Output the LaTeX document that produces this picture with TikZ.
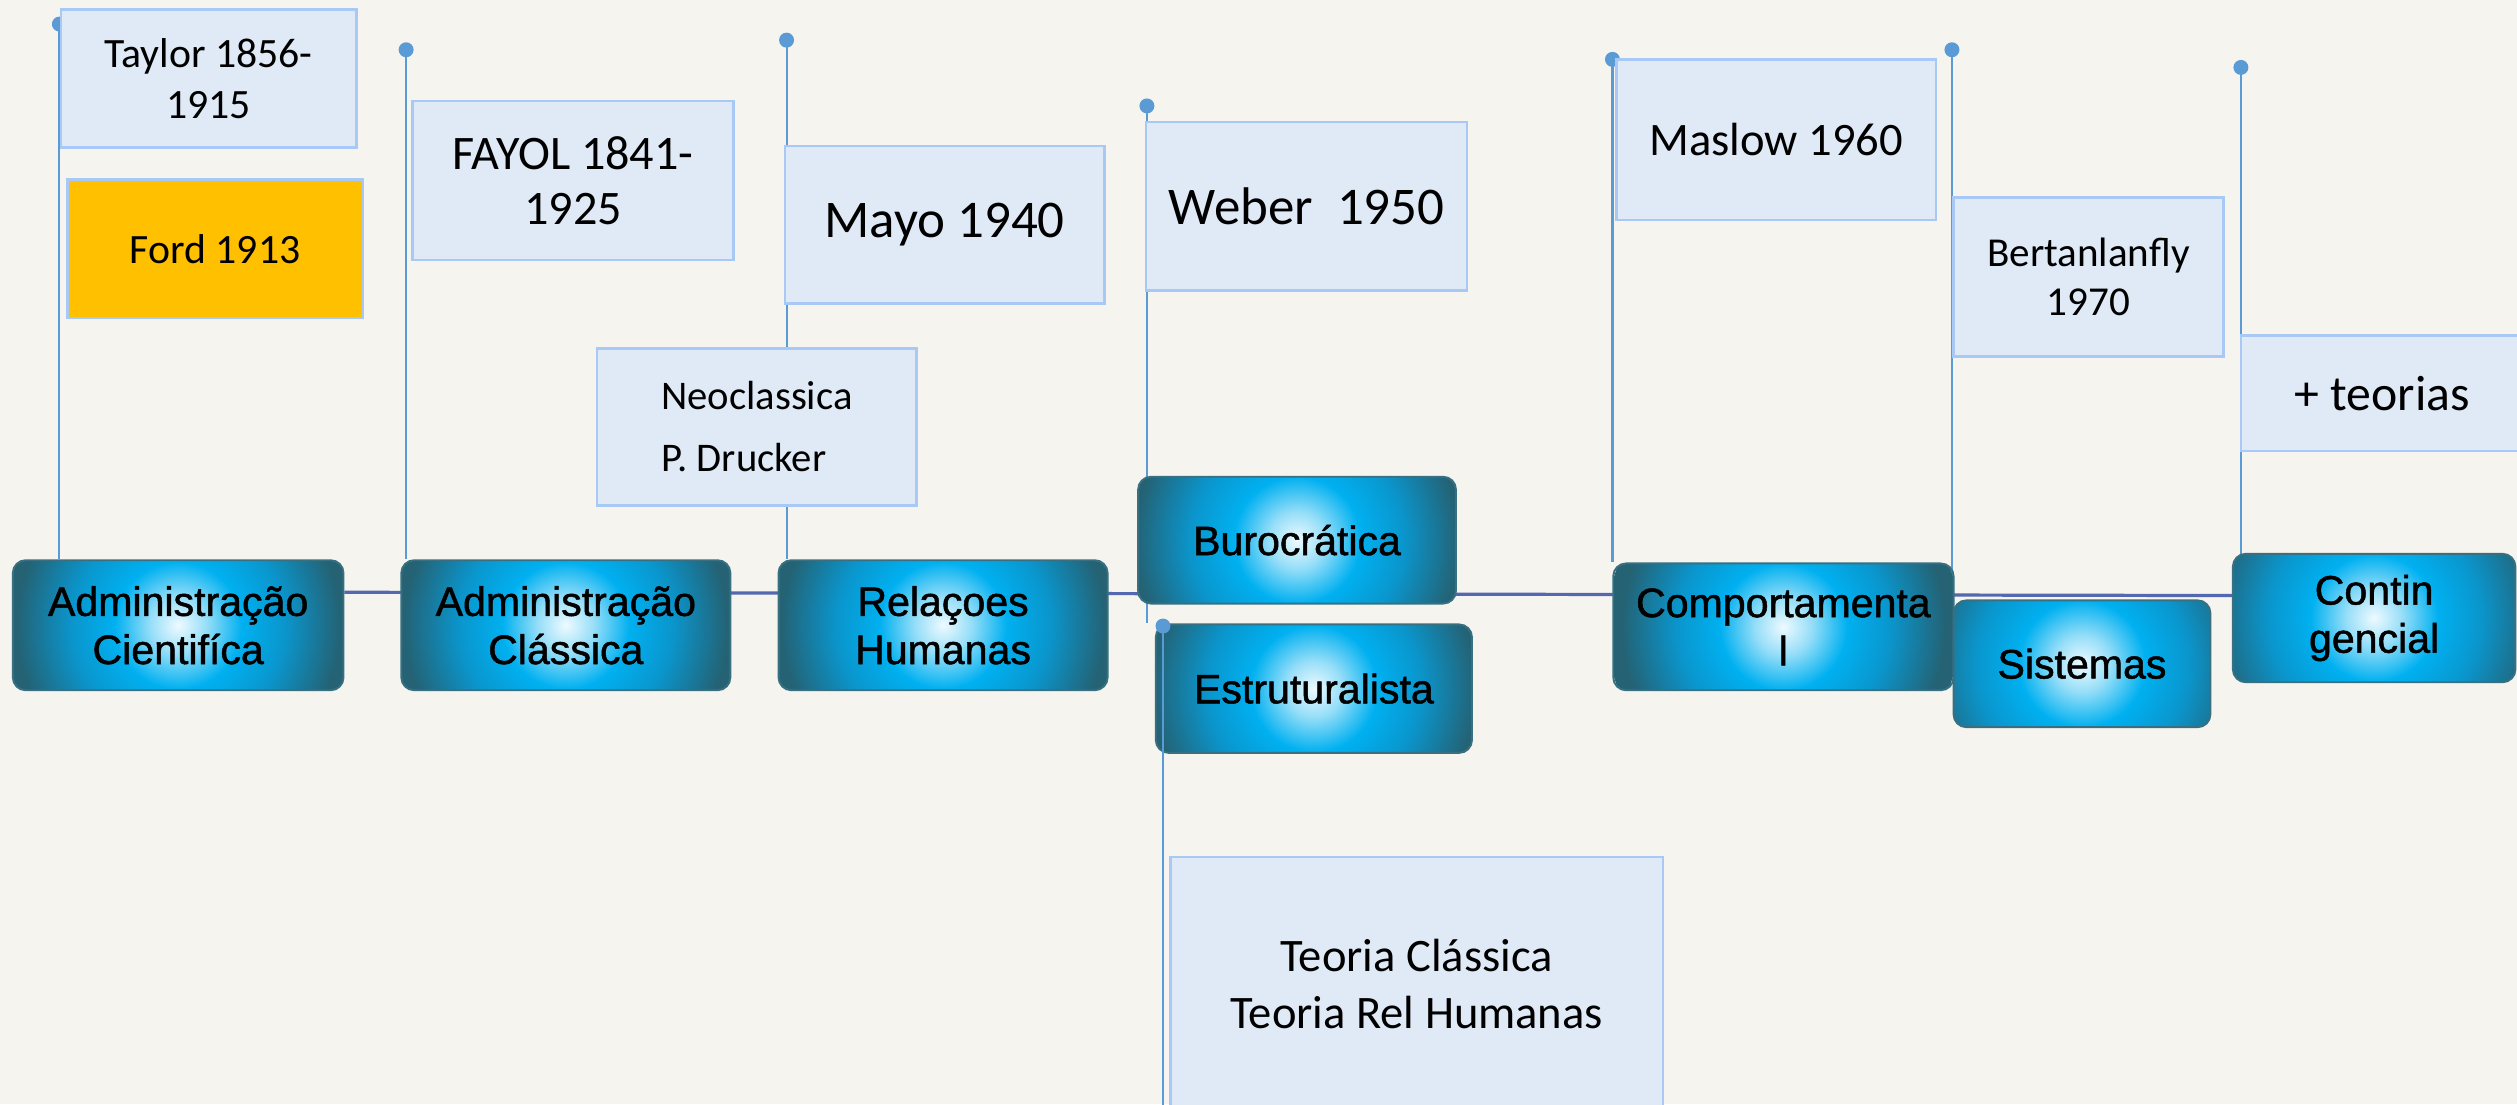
\documentclass[tikz,border=0pt]{standalone}
\usepackage{fontspec}
\setmainfont{Carlito}
\newfontfamily\phasefont[FakeBold=1.2]{Liberation Sans}

\definecolor{paper}{RGB}{245,244,239}
\definecolor{notefill}{RGB}{223,234,246}
\definecolor{noteedge}{RGB}{168,200,245}
\definecolor{fordgold}{RGB}{255,192,0}
\definecolor{stemblue}{RGB}{91,155,213}
\definecolor{lineblue}{RGB}{84,104,176}
\definecolor{phaseedge}{RGB}{56,112,130}
\definecolor{glowc}{RGB}{238,250,255}
\definecolor{glowmid}{RGB}{150,222,248}
\definecolor{cyanc}{RGB}{0,176,240}
\definecolor{cyandeep}{RGB}{10,150,205}
\definecolor{tealc}{RGB}{36,98,116}

\pgfdeclareradialshading{phaseglow}{\pgfpoint{0bp}{0bp}}{color(0bp)=(glowc); color(4bp)=(glowmid); color(9bp)=(cyanc); color(15bp)=(cyandeep); color(23bp)=(tealc); color(50bp)=(tealc)}

\pgfdeclarelayer{paperlayer}
\pgfdeclarelayer{behind}
\pgfsetlayers{paperlayer,behind,main}

\tikzset{every picture/.style={line width=0.75pt},
  notebox/.style={draw=noteedge, fill=notefill, line width=1.2pt, inner sep=0pt, align=center},
  phasebox/.style={draw=phaseedge, line width=0.9pt, rounded corners=6pt, inner sep=0pt, align=center,
    font=\phasefont\fontsize{19.2}{22.5}\selectfont,
    path picture={\shade[shading=phaseglow] (path picture bounding box.center) circle (82.5pt);}},
  stem/.style={draw=stemblue, line width=1pt},
  pindot/.style={circle, fill=stemblue, inner sep=0pt, minimum size=7pt},
  timeline/.style={draw=lineblue, line width=1.5pt}}

\begin{document}
\begin{tikzpicture}[x=0.75pt,y=0.75pt,yscale=-1,xscale=1]
\useasboundingbox (0,0) rectangle (1568,688);
\begin{pgfonlayer}{paperlayer}
\fill[paper] (0,0) rectangle (1568,688);
\end{pgfonlayer}

%Shape: Dots
\node[pindot] (d1) at (37,15) {};
\node[pindot] (d2) at (253,31) {};
\node[pindot] (d3) at (490,25) {};
\node[pindot] (d4) at (714.5,66) {};
\node[pindot] (d6) at (1004.5,37) {};
\node[pindot] (d7) at (1216,31) {};
\node[pindot] (d8) at (1396,42) {};

%Shape: Rectangle [notes]
\node[notebox, minimum width=138pt, minimum height=64.5pt, font=\fontsize{19.5}{24}\selectfont] (taylor) at (130,49) {Taylor 1856-\\1915};
\node[notebox, fill=fordgold, minimum width=138pt, minimum height=64.5pt, font=\fontsize{19.5}{24}\selectfont] (ford) at (134,155) {Ford 1913};
\node[notebox, minimum width=150pt, minimum height=74.25pt, font=\fontsize{22.5}{25.5}\selectfont] (fayol) at (357,112.5) {FAYOL 1841-\\1925};
\node[notebox, minimum width=149.25pt, minimum height=73.5pt, font=\fontsize{24.75}{29}\selectfont] (mayo) at (588.5,140) {Mayo 1940};
\node[notebox, minimum width=149.25pt, minimum height=73.5pt, font=\fontsize{19}{29}\selectfont] (neo) at (471.5,266) {Neoclassica\\P. Drucker\hspace*{12pt}};
\node[notebox, minimum width=150pt, minimum height=78.75pt, font=\fontsize{24.75}{29}\selectfont] (weber) at (814,128.5) {Weber\ \ 1950};
\node[notebox, minimum width=149.25pt, minimum height=75pt, font=\fontsize{21.75}{26}\selectfont] (maslow) at (1106.5,87) {Maslow 1960};
\node[notebox, minimum width=126pt, minimum height=74.25pt, font=\fontsize{19.2}{23.25}\selectfont] (bert) at (1301,172.5) {Bertanlanfly\\1970};
\node[notebox, minimum width=132pt, minimum height=54pt, font=\fontsize{23.25}{27}\selectfont] (teorias) at (1484,245) {+ teorias};
\node[notebox, minimum width=230.25pt, minimum height=118.5pt, font=\fontsize{21.75}{26.25}\selectfont] (teoria) at (882.5,613) {Teoria Clássica\\Teoria Rel Humanas};

%Shape: Rounded Rectangle [phases]
\node[phasebox, minimum width=154.5pt, minimum height=60.75pt] (cient) at (111,389.5) {Administração\\Cientifíca};
\node[phasebox, minimum width=153.75pt, minimum height=60.75pt] (classica) at (352.5,389.5) {Administração\\Clássica};
\node[phasebox, minimum width=153.75pt, minimum height=60.75pt] (relacoes) at (587.5,389.5) {Relaçoes\\Humanas};
\node[phasebox, minimum width=148.5pt, minimum height=59.25pt] (buro) at (808,336.5) {Burocrática};
\node[phasebox, minimum width=147.75pt, minimum height=60pt] (estru) at (818.5,429) {Estruturalista};
\node[phasebox, minimum width=159pt, minimum height=59.25pt] (comport) at (1111,390.5) {Comportamenta\\l};
\node[phasebox, minimum width=120pt, minimum height=59.25pt] (sist) at (1297,413.5) {Sistemas};
\node[phasebox, minimum width=132pt, minimum height=60pt] (conting) at (1479,385) {Contin\\gencial};

%Straight Lines
\begin{pgfonlayer}{behind}
\draw[timeline] ([yshift=-15.4pt]cient.east) -- ([yshift=-10.5pt]conting.west);
\draw[stem] (d1.center) -- (d1 |- cient.north);
\draw[stem] (d2.center) -- (d2 |- classica.north);
\draw[stem] (d3.center) -- (d3 |- relacoes.north);
\draw[stem] (d4.center) -- (d4 |- estru.north);
\draw[stem] (d6.center) -- (d6 |- comport.north);
\draw[stem] (d7.center) -- ([yshift=-3pt]d7 |- sist.north);
\draw[stem] (d8.center) -- ([yshift=21.75pt]d8 |- conting.north);
\end{pgfonlayer}

%Estruturalista stem
\node[pindot] (d5) at (724.5,390) {};
\coordinate (e5) at (724.5,700);
\draw[stem] (d5.center) -- (e5);

\end{tikzpicture}
\end{document}
